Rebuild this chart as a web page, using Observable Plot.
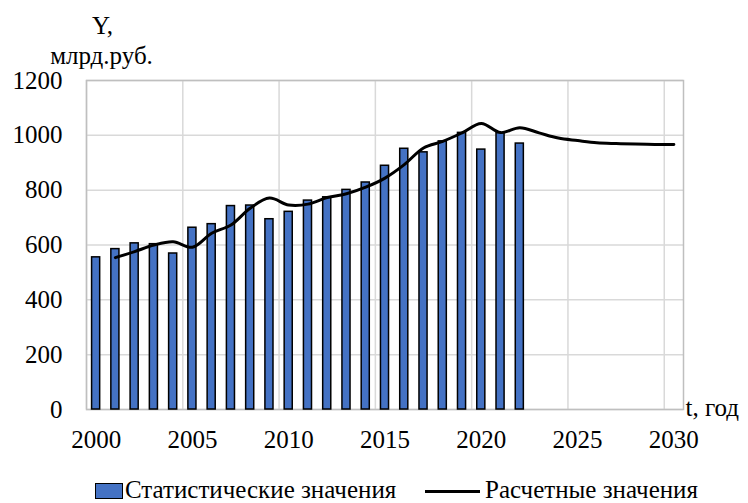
<!DOCTYPE html>
<html>
<head>
<meta charset="utf-8">
<script src="https://cdn.jsdelivr.net/npm/d3@7"></script>
<script src="https://cdn.jsdelivr.net/npm/@observablehq/plot@0.6"></script>
<style>
  @font-face { font-family: 'ChartSerif'; src: local('Liberation Serif'), local('LiberationSerif'), local('LiberationSerif-Regular'); }
  html, body { margin: 0; padding: 0; background: white; }
  #wrap { width: 748px; }
</style>
</head>
<body>
<div id="wrap"></div>
<div style="position: relative; width: 748px; height: 33px; color: black; font-family: 'Liberation Serif'; font-size: 25px;">
  <div style="position: absolute; left: 95px; top: 13px; width: 26px; height: 14px; background: #4472C4; border: 1px solid black;"></div>
  <div style="position: absolute; left: 125px; top: 7px; line-height: 25px; white-space: nowrap; font-family: 'Liberation Serif'; font-size: 25px;" id="lg1"></div>
  <div style="position: absolute; left: 425px; top: 20px; width: 55px; height: 3px; background: black;"></div>
  <div style="position: absolute; left: 485px; top: 7px; line-height: 25px; white-space: nowrap; font-family: 'Liberation Serif'; font-size: 25px;" id="lg2"></div>
</div>
<script>
// Statistical values (bars)
const statYears = [2000, 2001, 2002, 2003, 2004, 2005, 2006, 2007, 2008, 2009, 2010, 2011,
                   2012, 2013, 2014, 2015, 2016, 2017, 2018, 2019, 2020, 2021, 2022];
const statValues = [555, 585, 606, 603, 569, 663, 676, 742, 744, 694, 721, 762,
                    774, 801, 828, 889, 951, 938, 978, 1009, 948, 1008, 970];

// Calculated values (smoothed line)
const calcYears = [2001, 2002, 2003, 2004, 2005, 2006, 2007, 2008, 2009, 2010, 2011, 2012,
                   2013, 2014, 2015, 2016, 2017, 2018, 2019, 2020, 2021, 2022, 2023, 2024,
                   2025, 2026, 2027, 2028, 2029, 2030];
const calcValues = [554, 576, 600, 612, 592, 643, 673, 734, 771, 746, 749, 773,
                    787, 811, 844, 893, 954, 978, 1009, 1043, 1010, 1028, 1009, 990,
                    981, 973, 970, 968, 967, 967];

// Axis ticks
const xTicks = [2000, 2005, 2010, 2015, 2020, 2025, 2030];
const xGrid = [1999.5, 2004.5, 2009.5, 2014.5, 2019.5, 2024.5, 2029.5];
const yTicks = [0, 200, 400, 600, 800, 1000, 1200];

// Legend labels
const legendLabels = ["Статистические значения", "Расчетные значения"];

const statData = statYears.map((year, i) => ({year, value: statValues[i]}));
const calcData = calcYears.map((year, i) => ({year, value: calcValues[i]}));
const half = 0.21;

const chart = Plot.plot({
  width: 748,
  height: 470,
  marginLeft: 86,
  marginRight: 65,
  marginTop: 80,
  marginBottom: 61,
  style: { fontFamily: "'Liberation Serif', 'ChartSerif', serif", fontSize: "25px", color: "black", background: "white", overflow: "visible" },
  x: { domain: [1999.5, 2030.5], ticks: xTicks, tickFormat: d => String(d), tickSize: 0, tickPadding: 21, label: null },
  y: { domain: [0, 1200], ticks: yTicks, tickFormat: d => String(d), tickSize: 0, tickPadding: 24, label: null },
  marks: [
    Plot.ruleY(yTicks, { stroke: "#d9d9d9", strokeWidth: 1.5 }),
    Plot.ruleX(xGrid, { stroke: "#d9d9d9", strokeWidth: 1.5 }),
    Plot.frame({ stroke: "#bfbfbf", strokeWidth: 1.5 }),
    Plot.rectY(statData, {
      x1: d => d.year - half,
      x2: d => d.year + half,
      y1: 0,
      y2: "value",
      fill: "#4472C4",
      stroke: "black",
      strokeWidth: 1.5
    }),
    Plot.line(calcData, { x: "year", y: "value", stroke: "black", strokeWidth: 3, curve: "catmull-rom" }),
    Plot.text(["Y,"], { frameAnchor: "top-left", dx: 16, dy: -47, textAnchor: "middle", lineAnchor: "bottom", fontSize: 25 }),
    Plot.text(["млрд.руб."], { frameAnchor: "top-left", dx: 15, dy: -17, textAnchor: "middle", lineAnchor: "bottom", fontSize: 25 }),
    Plot.text(["t, год"], { frameAnchor: "bottom-right", dx: 2, dy: 6, textAnchor: "start", lineAnchor: "bottom", fontSize: 25 })
  ]
});

d3.select(chart).selectAll("text").attr("font-family", "'Liberation Serif', 'ChartSerif', serif");

document.getElementById("wrap").appendChild(chart);
document.getElementById("lg1").textContent = legendLabels[0];
document.getElementById("lg2").textContent = legendLabels[1];
</script>
</body>
</html>
